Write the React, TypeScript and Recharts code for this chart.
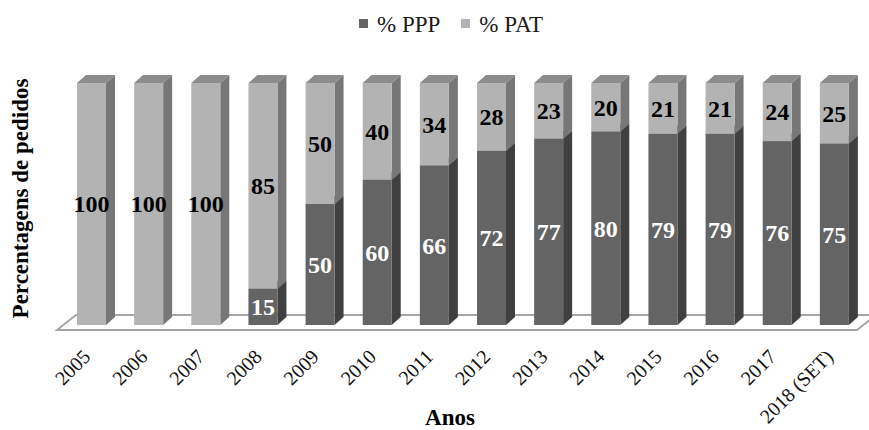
import React from 'react';
import { BarChart, Bar, XAxis, YAxis, Legend, LabelList, ReferenceLine } from 'recharts';

// Share of requests per year (%), stacked: PPP at the bottom, PAT on top
const years = ['2005', '2006', '2007', '2008', '2009', '2010', '2011', '2012', '2013', '2014', '2015', '2016', '2017', '2018 (SET)'];
const pppValues = [0, 0, 0, 15, 50, 60, 66, 72, 77, 80, 79, 79, 76, 75];
const patValues = [100, 100, 100, 85, 50, 40, 34, 28, 23, 20, 21, 21, 24, 25];
const pppName = '% PPP';
const patName = '% PAT';
const xTitle = 'Anos';
const yTitle = 'Percentagens de pedidos';

const data = years.map((year, i) => ({ year, ppp: pppValues[i], pat: patValues[i] }));

const FONT = '"Liberation Serif", "Times New Roman", Times, serif';
const DEPTH_X = 9;
const DEPTH_Y = 8;

const COLORS = {
  ppp: { front: '#646464', side: '#404040', top: '#505050' },
  pat: { front: '#b3b3b3', side: '#777777', top: '#8c8c8c' },
};

type Faces = { front: string; side: string; top: string };

// Pseudo-3D column: front face, right side face and top face
const makeBox = (c: Faces) => (props: any) => {
  const { x, y, width, height } = props;
  if (!height || height <= 0) return <g />;
  const w = width;
  const h = height;
  const side = `${x + w},${y} ${x + w + DEPTH_X},${y - DEPTH_Y} ${x + w + DEPTH_X},${y + h - DEPTH_Y} ${x + w},${y + h}`;
  const top = `${x},${y} ${x + DEPTH_X},${y - DEPTH_Y} ${x + w + DEPTH_X},${y - DEPTH_Y} ${x + w},${y}`;
  return (
    <g>
      <polygon points={side} fill={c.side} />
      <polygon points={top} fill={c.top} />
      <rect x={x} y={y} width={w} height={h} fill={c.front} />
    </g>
  );
};

const makeValueLabel = (color: string) => (props: any) => {
  const { x, y, width, height, value } = props;
  if (!value) return null;
  return (
    <text
      x={x + width / 2}
      y={y + height / 2}
      dy="0.35em"
      textAnchor="middle"
      fill={color}
      fontFamily={FONT}
      fontWeight="bold"
      fontSize={24}
    >
      {value}
    </text>
  );
};

// Floor of the 3D plot, drawn along the zero line
const Floor = (props: any) => {
  const { x1, y1, x2 } = props;
  const pts = `${x1 - 6},${y1 + 5} ${x1 + 13},${y1 - 10} ${x2 + 13},${y1 - 10} ${x2 - 6},${y1 + 5}`;
  return <polygon points={pts} fill="#ffffff" stroke="#a6a6a6" strokeWidth={2} />;
};

// Year labels slanted at 45 degrees, ending under the column
function renderYearTick(props: any) {
  const { x, y, payload } = props;
  return (
    <g transform={`translate(${x},${y + 33})`}>
      <text
        x={0}
        y={0}
        transform="rotate(-45)"
        textAnchor="end"
        fill="#111111"
        fontFamily={FONT}
        fontSize={20}
      >
        {payload.value}
      </text>
    </g>
  );
}

function renderXTitle(props: any) {
  const vb = props.viewBox;
  return (
    <text
      x={vb.x + vb.width / 2 - 13}
      y={vb.y + 100}
      textAnchor="middle"
      fill="#000"
      fontFamily={FONT}
      fontWeight="bold"
      fontSize={23}
    >
      {xTitle}
    </text>
  );
}

function renderYTitle(props: any) {
  const vb = props.viewBox;
  const cx = vb.x + 28;
  const cy = vb.y + vb.height / 2 - 5.5;
  return (
    <g transform={`translate(${cx},${cy})`}>
      <text
        transform="rotate(-90)"
        textAnchor="middle"
        fill="#000"
        fontFamily={FONT}
        fontWeight="bold"
        fontSize={23}
      >
        {yTitle}
      </text>
    </g>
  );
}

function renderLegend() {
  const item = (color: string, label: string, ml: number) => (
    <div style={{ display: 'flex', alignItems: 'flex-start', marginLeft: ml }}>
      <div style={{ width: 9, height: 9, background: color, marginTop: 6, marginRight: 9 }} />
      <span>{label}</span>
    </div>
  );
  return (
    <div
      style={{
        height: 83,
        width: 869,
        boxSizing: 'border-box',
        paddingTop: 13,
        paddingLeft: 359,
        display: 'flex',
        fontFamily: FONT,
        fontSize: 23,
        lineHeight: '23px',
        color: '#1a1a1a',
      }}
    >
      {item(COLORS.ppp.front, pppName, 0)}
      {item(COLORS.pat.front, patName, 21)}
    </div>
  );
}

export default function App() {
  return (
    <div style={{ position: 'absolute', left: 0, top: 0, width: 869, height: 430, background: '#fff' }}>
      <BarChart
        width={869}
        height={430}
        data={data}
        margin={{ top: 0, right: 6, bottom: 0, left: 0 }}
        barSize={29}
      >
        <Legend
          verticalAlign="top"
          align="left"
          content={renderLegend}
          wrapperStyle={{ left: 0, top: 0, width: 869, height: 83 }}
        />
        <XAxis
          dataKey="year"
          height={105}
          axisLine={false}
          tickLine={false}
          tickSize={0}
          tickMargin={0}
          interval={0}
          tick={renderYearTick}
          label={renderXTitle}
        />
        <YAxis
          width={63}
          domain={[0, 100]}
          tick={false}
          axisLine={false}
          tickLine={false}
          label={renderYTitle}
        />
        <ReferenceLine y={0} shape={Floor} zIndex={0} />
        <Bar dataKey="ppp" name={pppName} stackId="s" fill={COLORS.ppp.front} shape={makeBox(COLORS.ppp)} isAnimationActive={false}>
          <LabelList dataKey="ppp" content={makeValueLabel('#ffffff')} />
        </Bar>
        <Bar dataKey="pat" name={patName} stackId="s" fill={COLORS.pat.front} shape={makeBox(COLORS.pat)} isAnimationActive={false}>
          <LabelList dataKey="pat" content={makeValueLabel('#000000')} />
        </Bar>
      </BarChart>
    </div>
  );
}
